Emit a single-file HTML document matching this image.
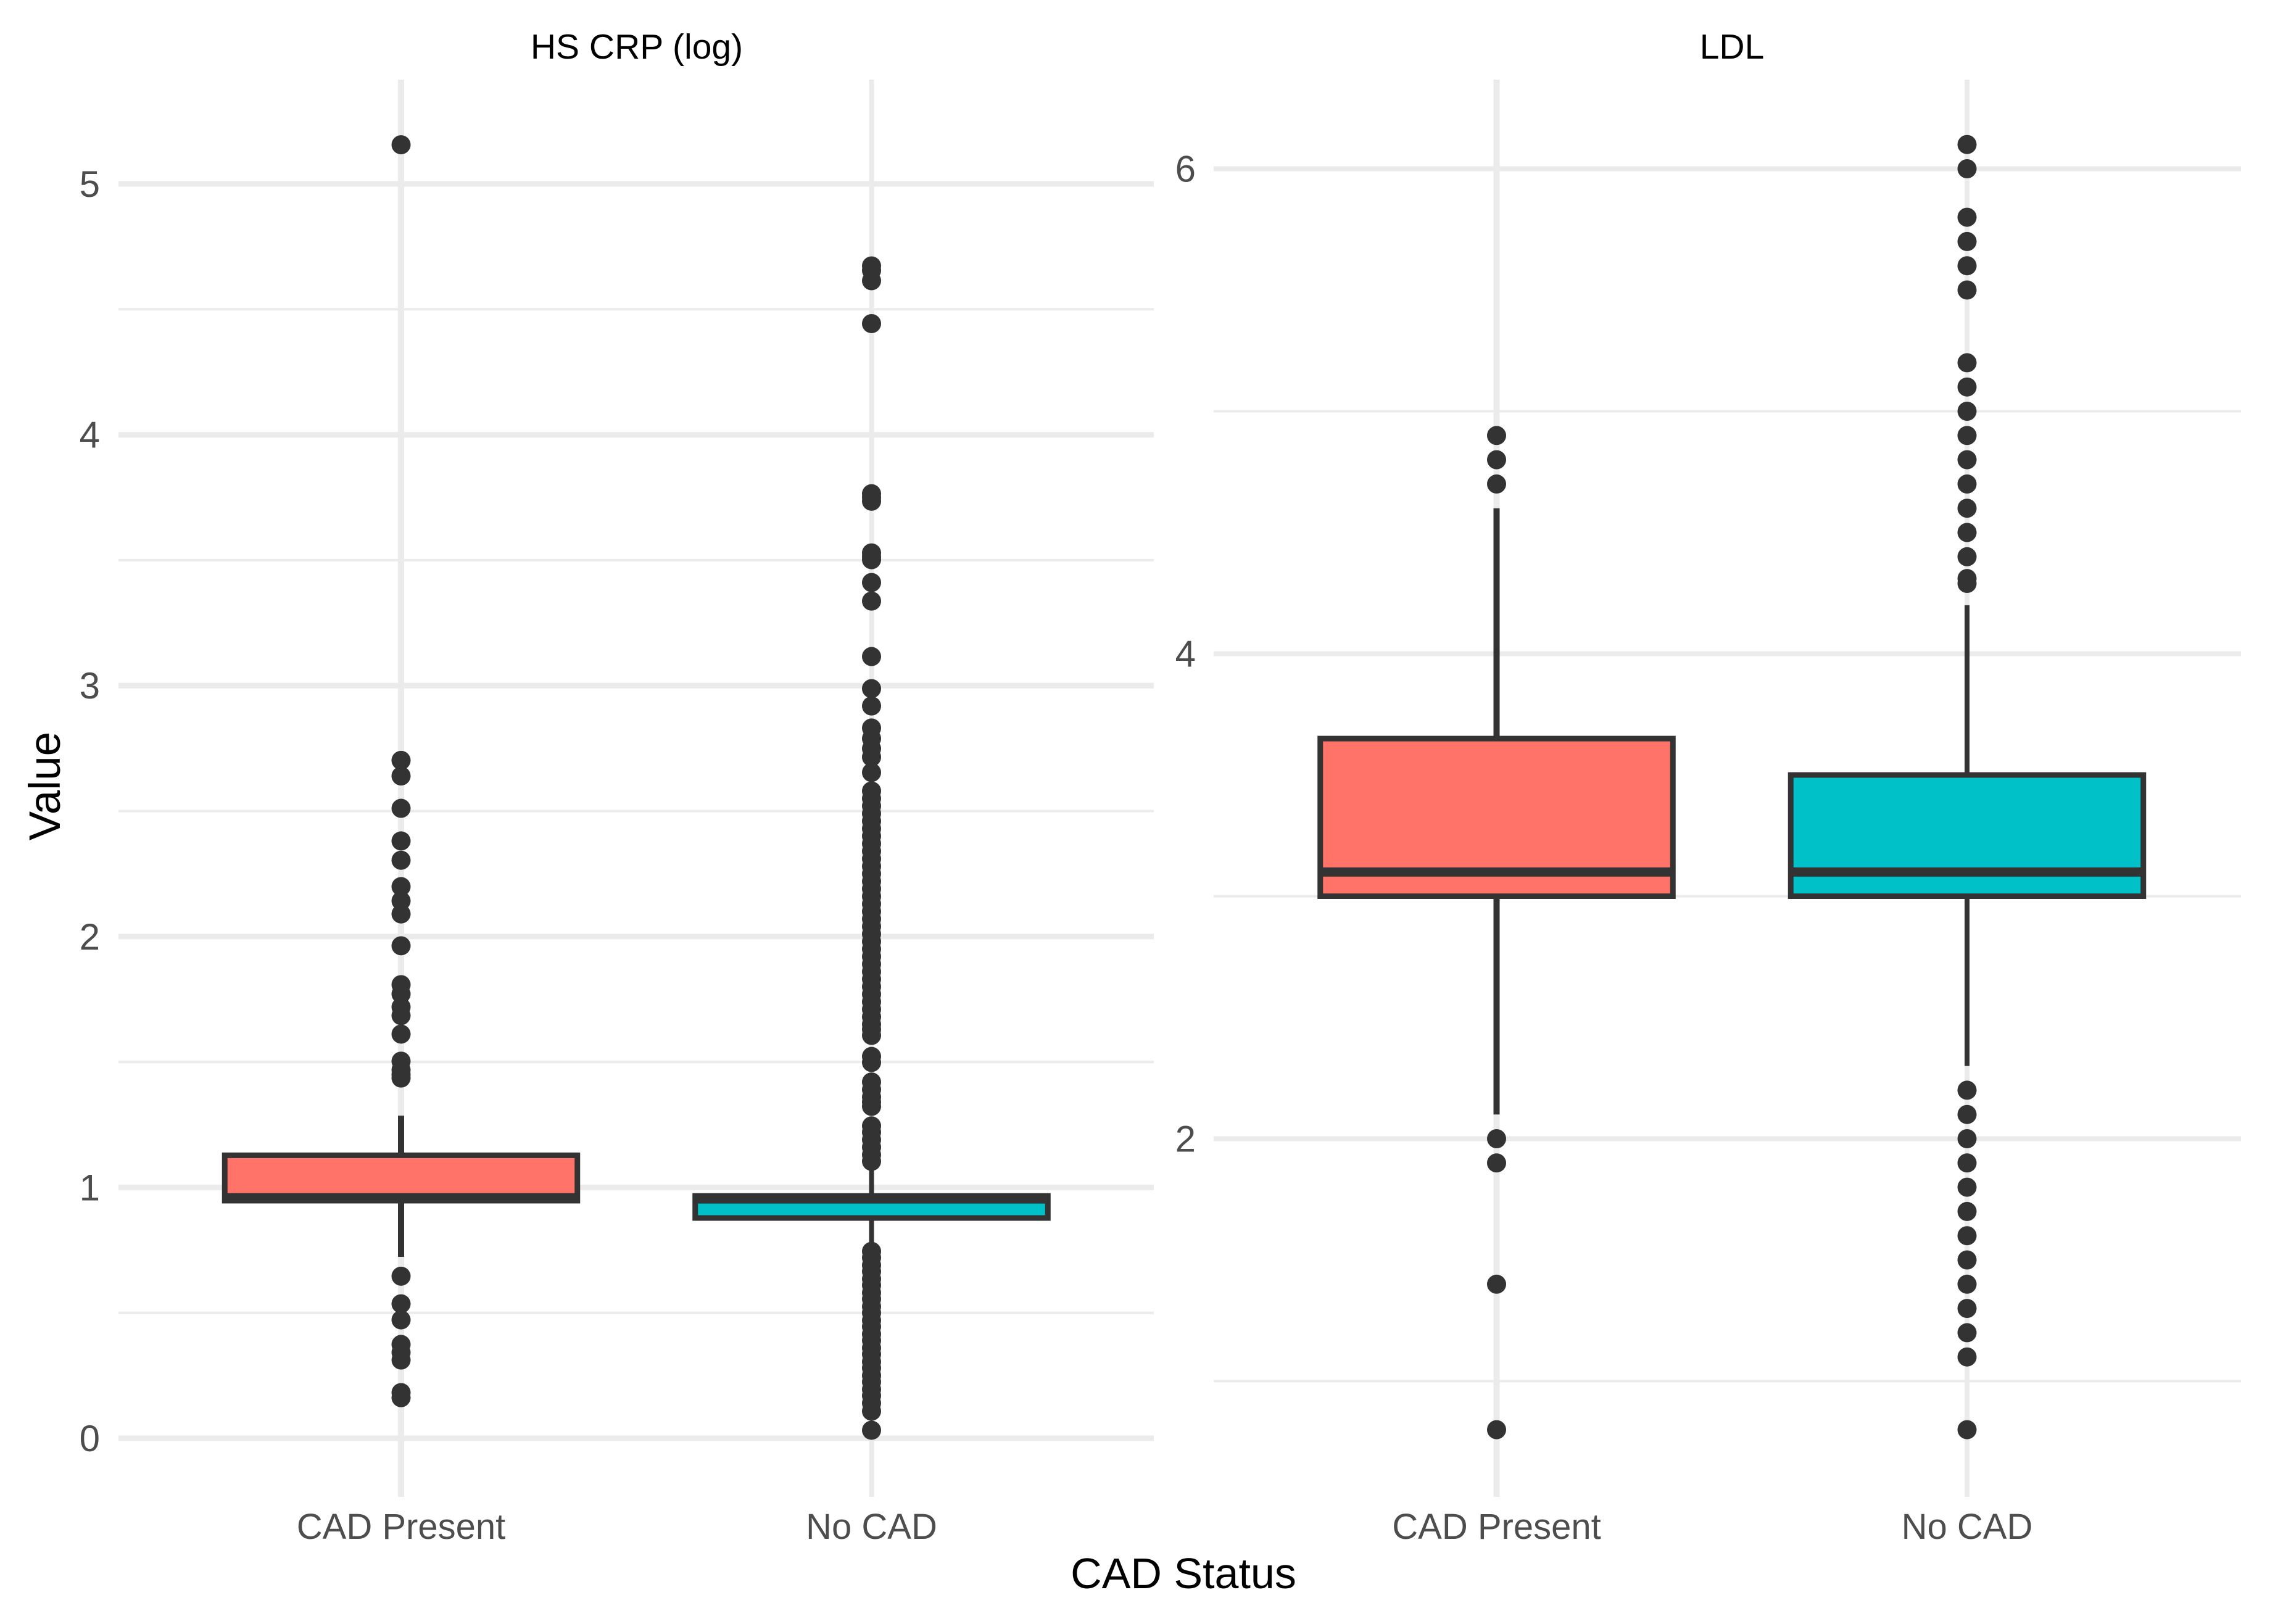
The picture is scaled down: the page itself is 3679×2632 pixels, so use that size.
<!DOCTYPE html>
<html lang="en">
<head>
<meta charset="utf-8">
<title>HS CRP and LDL by CAD status</title>
<style>
html,body{margin:0;padding:0;background:#fff}
svg{display:block;font-family:"Liberation Sans",Arial,sans-serif}
</style>
</head>
<body>
<svg id="chart" xmlns="http://www.w3.org/2000/svg" width="3679" height="2632" viewBox="0 0 3679 2632">
  <rect x="0" y="0" width="3679" height="2632" fill="#ffffff"/>
  <g id="panel-crp"></g>
  <g id="panel-ldl"></g>
  <text x="1032" y="95" font-size="57" text-anchor="middle" fill="#000">HS CRP (log)</text>
  <text x="2807" y="95" font-size="57" text-anchor="middle" fill="#000">LDL</text>
  <text x="1918" y="2574" font-size="70" text-anchor="middle" fill="#000">CAD Status</text>
  <text x="0" y="0" font-size="71" text-anchor="middle" fill="#000" transform="translate(97 1274) rotate(-90)">Value</text>
</svg>
<script>
const categories = ["CAD Present", "No CAD"];
const fills = ["#ff7369", "#00c1c8"];

const crpTicks = [0, 1, 2, 3, 4, 5];
const crpMinorTicks = [0.5, 1.5, 2.5, 3.5, 4.5];
const crpQ1 = [0.947, 0.878];
const crpMedian = [0.959, 0.954];
const crpQ3 = [1.128, 0.966];
const crpWhiskerLow = [0.723, 0.76];
const crpWhiskerHigh = [1.286, 1.11];
const crpPresentOutliers = [5.156, 2.702, 2.64, 2.511, 2.381, 2.304, 2.199, 2.142, 2.09, 1.963, 1.808, 1.771, 1.719, 1.685, 1.611, 1.503, 1.468, 1.45, 1.436, 0.646, 0.536, 0.472, 0.374, 0.342, 0.312, 0.182, 0.162];
const crpNoCadOutliers = [4.673, 4.655, 4.614, 4.443, 3.765, 3.75, 3.735, 3.529, 3.514, 3.502, 3.411, 3.337, 3.116, 2.988, 2.919, 2.831, 2.789, 2.749, 2.715, 2.654, 2.58, 2.55, 2.52, 2.49, 2.46, 2.43, 2.4, 2.37, 2.34, 2.31, 2.28, 2.25, 2.22, 2.19, 2.16, 2.13, 2.1, 2.07, 2.04, 2.01, 1.98, 1.95, 1.92, 1.89, 1.86, 1.83, 1.8, 1.77, 1.74, 1.71, 1.68, 1.65, 1.63, 1.606, 1.522, 1.498, 1.42, 1.39, 1.36, 1.34, 1.323, 1.245, 1.22, 1.19, 1.16, 1.13, 1.104, 0.745, 0.72, 0.69, 0.665, 0.635, 0.61, 0.58, 0.555, 0.525, 0.5, 0.47, 0.445, 0.415, 0.39, 0.36, 0.335, 0.305, 0.28, 0.25, 0.225, 0.195, 0.17, 0.14, 0.108, 0.032];

const ldlTicks = [2, 4, 6];
const ldlMinorTicks = [1, 3, 5];
const ldlQ1 = [3.0, 3.0];
const ldlMedian = [3.1, 3.1];
const ldlQ3 = [3.65, 3.5];
const ldlWhiskerLow = [2.1, 2.3];
const ldlWhiskerHigh = [4.6, 4.2];
const ldlPresentOutliers = [4.9, 4.8, 4.7, 2.0, 1.9, 1.4, 0.8];
const ldlNoCadOutliers = [6.1, 6.0, 5.8, 5.7, 5.6, 5.5, 5.2, 5.1, 5.0, 4.9, 4.8, 4.7, 4.6, 4.5, 4.4, 4.31, 4.29, 2.2, 2.1, 2.0, 1.9, 1.8, 1.7, 1.6, 1.5, 1.4, 1.3, 1.2, 1.1, 0.8];

const SVG_NS = "http://www.w3.org/2000/svg";
const INK = "#333333";
const GRID = "#ebebeb";

function make(parent, tag, attrs) {
  const el = document.createElementNS(SVG_NS, tag);
  for (const key in attrs) el.setAttribute(key, attrs[key]);
  parent.appendChild(el);
  return el;
}

function drawPanel(opts) {
  const g = document.getElementById(opts.id);
  const xScale = opts.xScale;
  const yScale = opts.yScale;
  const halfWidth = opts.bandStep * 0.375;

  opts.minorTicks.forEach(function (v) {
    const el = make(g, "line", {x1: opts.left, x2: opts.right, y1: yScale(v), y2: yScale(v), stroke: GRID, "stroke-width": 4});
    
    
  });
  opts.ticks.forEach(function (v) {
    const el = make(g, "line", {x1: opts.left, x2: opts.right, y1: yScale(v), y2: yScale(v), stroke: GRID, "stroke-width": opts.majorWidth});
    
    
    const label = make(g, "text", {x: opts.tickRight, y: yScale(v) + 21, "font-size": 60, "text-anchor": "end", fill: "#4d4d4d"});
    label.textContent = String(v);
    
    
  });
  categories.forEach(function (name, i) {
    const grid = make(g, "line", {x1: xScale(i), x2: xScale(i), y1: 129, y2: 2426, stroke: GRID, "stroke-width": i === 0 ? 10 : 8});
    
    
    const label = make(g, "text", {x: xScale(i), y: 2494, "font-size": 58, "text-anchor": "middle", fill: "#4d4d4d"});
    label.textContent = name;
    
    
  });
  categories.forEach(function (name, i) {
    const cx = xScale(i);
    const whiskerWidth = i === 0 ? 10 : 8;
    const upper = make(g, "line", {x1: cx, x2: cx, y1: yScale(opts.q3[i]), y2: yScale(opts.whiskerHigh[i]), stroke: INK, "stroke-width": whiskerWidth});
    
    
    const lower = make(g, "line", {x1: cx, x2: cx, y1: yScale(opts.q1[i]), y2: yScale(opts.whiskerLow[i]), stroke: INK, "stroke-width": whiskerWidth});
    
    
    const box = make(g, "rect", {x: cx - halfWidth, y: yScale(opts.q3[i]), width: halfWidth * 2, height: yScale(opts.q1[i]) - yScale(opts.q3[i]), fill: fills[i], stroke: INK, "stroke-width": 9});
    
    
    const median = make(g, "line", {x1: cx - halfWidth, x2: cx + halfWidth, y1: yScale(opts.median[i]), y2: yScale(opts.median[i]), stroke: INK, "stroke-width": 15});
    
    
    opts.outliers[i].forEach(function (v) {
      const dot = make(g, "circle", {cx: cx, cy: yScale(v), r: 15.5, fill: INK});
      
      
    });
  });
}

drawPanel({
  id: "panel-crp",
  left: 192, right: 1870, tickRight: 162, majorWidth: 9, bandStep: 762,
  xScale: function (i) { return 650 + 762.5 * i; },
  yScale: function (v) { return 2331 - 406.6 * v; },
  ticks: crpTicks, minorTicks: crpMinorTicks,
  q1: crpQ1, median: crpMedian, q3: crpQ3,
  whiskerLow: crpWhiskerLow, whiskerHigh: crpWhiskerHigh,
  outliers: [crpPresentOutliers, crpNoCadOutliers]
});

drawPanel({
  id: "panel-ldl",
  left: 1967, right: 3632, tickRight: 1938, majorWidth: 8, bandStep: 762,
  xScale: function (i) { return 2425.5 + 762.5 * i; },
  yScale: function (v) { return 2631.5 - 393 * v; },
  ticks: ldlTicks, minorTicks: ldlMinorTicks,
  q1: ldlQ1, median: ldlMedian, q3: ldlQ3,
  whiskerLow: ldlWhiskerLow, whiskerHigh: ldlWhiskerHigh,
  outliers: [ldlPresentOutliers, ldlNoCadOutliers]
});
</script>
</body>
</html>
